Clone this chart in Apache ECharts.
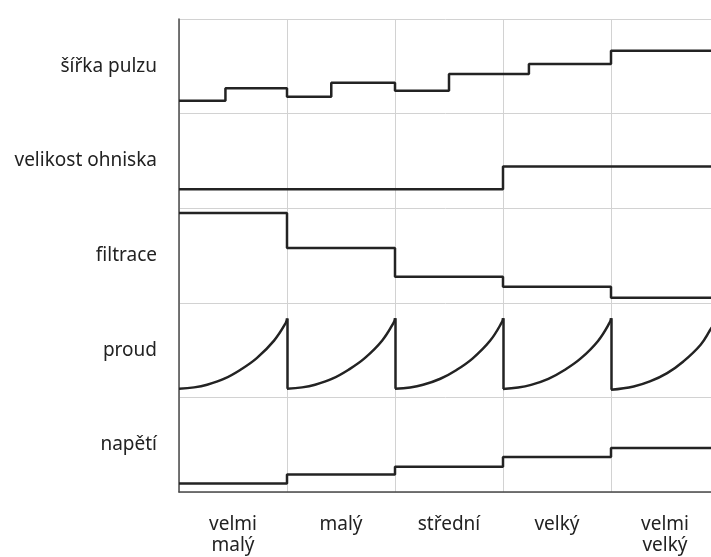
<!DOCTYPE html>
<html>
<head>
<meta charset="utf-8">
<script src="https://cdn.jsdelivr.net/npm/echarts@6/dist/echarts.min.js"></script>
<style>
  html, body { margin: 0; padding: 0; background: #fff; }
  #chart { width: 711px; height: 557px; }
</style>
</head>
<body>
<div id="chart"></div>
<script>
// x: five exposure categories, y: five parameter rows (bottom to top)
var columns = ['velmi\nmalý', 'malý', 'střední', 'velký', 'velmi\nvelký'];
var rows = ['napětí', 'proud', 'filtrace', 'velikost ohniska', 'šířka pulzu'];

// step curves: [x where the level starts, level inside its row 0..1]
var napeti = [[0, 0.09], [1, 0.185], [2, 0.267], [3, 0.37], [4, 0.465], [5, 0.465]];
var filtrace = [[0, 0.95], [1, 0.58], [2, 0.276], [3, 0.17], [4, 0.054], [5, 0.054]];
var ohnisko = [[0, 0.2], [3, 0.44], [5, 0.44]];
var sirkaPulzu = [[0, 0.136], [0.43, 0.267], [1, 0.179], [1.41, 0.327], [2, 0.242],
  [2.5, 0.419], [3.24, 0.524], [4, 0.665], [5, 0.665]];

// current (proud): one rising arc per column
var proud = [
  [[0, 0.092], [0.14, 0.106], [0.26, 0.134], [0.42, 0.198], [0.57, 0.293], [0.72, 0.415], [0.88, 0.6], [0.99, 0.79], [1, 0.835]],
  [[1, 0.092], [1.14, 0.106], [1.26, 0.134], [1.42, 0.198], [1.57, 0.293], [1.72, 0.415], [1.88, 0.599], [1.99, 0.796], [2, 0.838]],
  [[2, 0.092], [2.14, 0.105], [2.26, 0.133], [2.42, 0.197], [2.57, 0.29], [2.72, 0.413], [2.88, 0.598], [2.99, 0.795], [3, 0.838]],
  [[3, 0.09], [3.14, 0.104], [3.26, 0.132], [3.42, 0.196], [3.57, 0.29], [3.72, 0.412], [3.88, 0.597], [3.99, 0.795], [4, 0.838]],
  [[4, 0.08], [4.21, 0.116], [4.36, 0.169], [4.52, 0.257], [4.67, 0.38], [4.83, 0.557], [4.93, 0.733], [5, 0.84]]
];

var ink = '#232323';

function shift(data, row) {
  return data.map(function (p) { return [p[0], p[1] + row]; });
}

function lineSeries(data, extra) {
  var s = {
    type: 'line',
    xAxisIndex: 0,
    yAxisIndex: 0,
    data: data,
    symbol: 'none',
    silent: true,
    lineStyle: { color: ink, width: 2.5 }
  };
  return Object.assign(s, extra || {});
}

var series = [];
series.push(lineSeries(shift(napeti, 0), { step: 'end' }));
series.push(lineSeries(shift(filtrace, 2), { step: 'end' }));
series.push(lineSeries(shift(ohnisko, 3), { step: 'end' }));
series.push(lineSeries(shift(sirkaPulzu, 4), { step: 'end' }));

// vertical drops of the current between arcs
var drops = [];
for (var i = 0; i < proud.length; i++) {
  series.push(lineSeries(shift(proud[i], 1), { smooth: 0.4 }));
  if (i < proud.length - 1) {
    var peak = proud[i][proud[i].length - 1];
    var low = proud[i + 1][0];
    drops.push({ coords: shift([[peak[0], peak[1]], [peak[0], low[1]]], 1) });
  }
}
series.push({
  type: 'lines',
  coordinateSystem: 'cartesian2d',
  xAxisIndex: 0,
  yAxisIndex: 0,
  silent: true,
  data: drops,
  lineStyle: { color: ink, width: 2.5, opacity: 1 }
});

var gridColor = '#d2d2d2';
var axisColor = '#4a4a4a';
var font = { fontFamily: 'Noto Sans', fontSize: 19, color: '#222' };

var option = {
  backgroundColor: '#fff',
  animation: false,
  grid: { left: 179, width: 540, top: 19, height: 473, outerBoundsMode: 'none', containLabel: false },
  xAxis: [
    {
      type: 'value', min: 0, max: 5, interval: 1,
      axisLine: { show: true, lineStyle: { color: axisColor, width: 1.5 } },
      axisTick: { show: false },
      axisLabel: { show: false },
      splitLine: { show: true, lineStyle: { color: gridColor, width: 1 } }
    },
    {
      type: 'category', position: 'bottom', data: columns,
      axisLine: { show: false },
      axisTick: { show: false },
      splitLine: { show: false },
      axisLabel: Object.assign({ margin: 22, lineHeight: 21, interval: 0 }, font)
    }
  ],
  yAxis: [
    {
      type: 'value', min: 0, max: 5, interval: 1,
      axisLine: { show: true, lineStyle: { color: axisColor, width: 1.5 } },
      axisTick: { show: false },
      axisLabel: { show: false },
      splitLine: { show: true, lineStyle: { color: gridColor, width: 1 } }
    },
    {
      type: 'category', position: 'left', data: rows,
      axisLine: { show: false },
      axisTick: { show: false },
      splitLine: { show: false },
      axisLabel: Object.assign({ margin: 22, interval: 0 }, font)
    }
  ],
  series: series
};

var chart = echarts.init(document.getElementById('chart'));
chart.setOption(option);
</script>
</body>
</html>
